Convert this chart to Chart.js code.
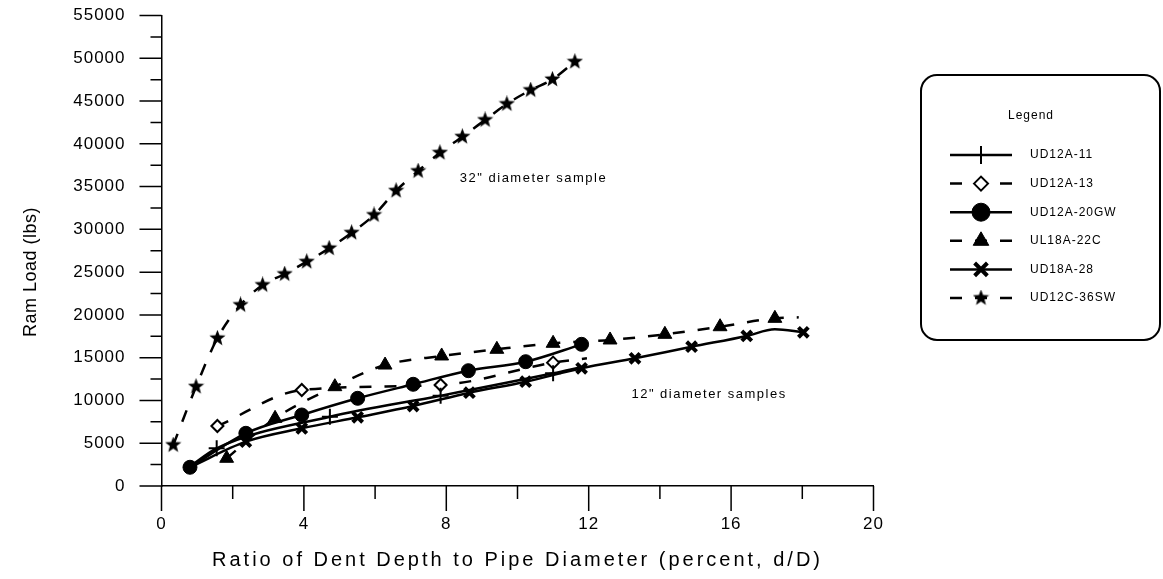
<!DOCTYPE html>
<html>
<head>
<meta charset="utf-8">
<title>Ram Load vs Dent Depth</title>
<script src="https://cdn.jsdelivr.net/npm/chart.js@4.4.1/dist/chart.umd.min.js"></script>
<style>
  html, body { margin: 0; padding: 0; background: #fff; }
  #wrap { width: 1163px; height: 579px; }
</style>
</head>
<body>
<div id="wrap"><canvas id="dentChart" width="1163" height="579"></canvas></div>
<script>
// axis ticks
const xTicks = [0, 4, 8, 12, 16, 20];
const xMinorTicks = [2, 6, 10, 14, 18];
const yTicks = [0, 5000, 10000, 15000, 20000, 25000, 30000, 35000, 40000, 45000, 50000, 55000];
const yMinorTicks = [2500, 7500, 12500, 17500, 22500, 27500, 32500, 37500, 42500, 47500, 52500];

const seriesNames = ['UD12A-11', 'UD12A-13', 'UD12A-20GW', 'UL18A-22C', 'UD18A-28', 'UD12C-36SW'];

// UD12A-11 (plus, solid)
const depth11 = [0.8, 1.55, 4.73, 7.84, 11.0, 11.8];
const load11  = [2300, 4410, 8100, 10550, 13170, 13900];

// UD12A-13 (open diamond, dashed)
const depth13 = [1.57, 3.94, 7.84, 11.0, 11.95];
const load13  = [7010, 11220, 11810, 14420, 14930];

// UD12A-20GW (circle, solid)
const depth20 = [0.8, 2.37, 3.94, 5.51, 7.07, 8.62, 10.23, 11.8];
const load20  = [2190, 6160, 8300, 10250, 11890, 13480, 14530, 16560];

// UL18A-22C (triangle, dashed)
const depth22 = [1.83, 3.19, 4.87, 6.28, 7.87, 9.42, 11.0, 12.6, 14.14, 15.69, 17.23, 17.9];
const load22  = [3240, 7910, 11610, 14140, 15200, 15980, 16680, 17070, 17730, 18620, 19600, 19720];

// UD18A-28 (x, solid)
const depth28 = [0.8, 2.37, 3.94, 5.51, 7.07, 8.65, 10.23, 11.8, 13.3, 14.89, 16.44, 17.23, 18.03];
const load28  = [2190, 5180, 6740, 8030, 9350, 10910, 12190, 13760, 14930, 16280, 17540, 18320, 17970];

// UD12C-36SW (star, dashed)
const depth36 = [0.33, 0.97, 1.57, 2.22, 2.84, 3.46, 4.08, 4.71, 5.34, 5.97, 6.59, 7.21, 7.82, 8.45, 9.09, 9.70, 10.37, 10.98, 11.61];
const load36  = [4790, 11610, 17270, 21160, 23500, 24780, 26220, 27790, 29610, 31680, 34520, 36820, 38960, 40830, 42790, 44660, 46290, 47540, 49600];

const FONT = '"Liberation Sans", Arial, sans-serif';

function pairs(xs, ys) {
    return xs.map((x, i) => ({ x: x, y: ys[i] }));
}

function makeStar(size) {
    const c = document.createElement('canvas');
    c.width = c.height = size;
    const g = c.getContext('2d');
    const R = size / 2, r = R * 0.42;
    g.beginPath();
    for (let i = 0; i < 10; i++) {
        const a = -Math.PI / 2 + i * Math.PI / 5;
        const rad = i % 2 ? r : R;
        g.lineTo(R + rad * Math.cos(a), R + rad * Math.sin(a));
    }
    g.closePath();
    g.fillStyle = '#000';
    g.fill();
    return c;
}
const starImg = makeStar(17);

const dash = [12, 13];

const datasets = [
    {
        label: seriesNames[0], data: pairs(depth11, load11),
        borderDash: [], pointStyle: 'cross',
        pointRadius: depth11.map((d, i) => (i === 0 || i === depth11.length - 1) ? 0 : 8),
        pointBorderWidth: 2, pointBackgroundColor: '#000', legendRadius: 9
    },
    {
        label: seriesNames[1], data: pairs(depth13, load13),
        borderDash: dash, pointStyle: 'rectRot',
        pointRadius: depth13.map((d, i) => i === depth13.length - 1 ? 0 : 6),
        pointBorderWidth: 2, pointBackgroundColor: '#fff', legendRadius: 7
    },
    {
        label: seriesNames[2], data: pairs(depth20, load20),
        borderDash: [], pointStyle: 'circle', pointRadius: 7,
        pointBorderWidth: 1, pointBackgroundColor: '#000', legendRadius: 9
    },
    {
        label: seriesNames[3], data: pairs(depth22, load22),
        borderDash: dash, pointStyle: 'triangle',
        pointRadius: depth22.map((d, i) => i === depth22.length - 1 ? 0 : 8),
        pointBorderWidth: 1, pointBackgroundColor: '#000', legendRadius: 9
    },
    {
        label: seriesNames[4], data: pairs(depth28, load28),
        borderDash: [], pointStyle: 'crossRot',
        pointRadius: depth28.map((d, i) => (i === 0 || i === 11) ? 0 : 7),
        pointBorderWidth: 4, pointBackgroundColor: '#000', legendRadius: 9
    },
    {
        label: seriesNames[5], data: pairs(depth36, load36),
        borderDash: dash, pointStyle: starImg, pointRadius: 8,
        pointBorderWidth: 1, pointBackgroundColor: '#000', legendRadius: 8
    }
].map(ds => Object.assign({
    borderColor: '#000',
    borderWidth: 2.5,
    pointBorderColor: '#000',
    cubicInterpolationMode: 'monotone',
    fill: false,
    clip: false
}, ds));

// tick marks, axis titles, in-plot notes
const axisDecor = {
    id: 'axisDecor',
    beforeDraw(chart) {
        chart.ctx.letterSpacing = '1px';
    },
    afterDraw(chart) {
        const { ctx, chartArea, scales: { x, y } } = chart;
        ctx.save();
        ctx.strokeStyle = '#000';
        ctx.lineWidth = 1.5;
        ctx.beginPath();
        yTicks.forEach(v => { const py = y.getPixelForValue(v); ctx.moveTo(chartArea.left - 22, py); ctx.lineTo(chartArea.left, py); });
        yMinorTicks.forEach(v => { const py = y.getPixelForValue(v); ctx.moveTo(chartArea.left - 11, py); ctx.lineTo(chartArea.left, py); });
        xTicks.forEach(v => { const px = x.getPixelForValue(v); ctx.moveTo(px, chartArea.bottom); ctx.lineTo(px, chartArea.bottom + 25); });
        xMinorTicks.forEach(v => { const px = x.getPixelForValue(v); ctx.moveTo(px, chartArea.bottom); ctx.lineTo(px, chartArea.bottom + 13); });
        ctx.stroke();

        ctx.fillStyle = '#000';
        ctx.textBaseline = 'middle';
        ctx.textAlign = 'center';
        ctx.letterSpacing = '3px';
        ctx.font = '20px ' + FONT;
        ctx.fillText('Ratio of Dent Depth to Pipe Diameter (percent, d/D)', (chartArea.left + chartArea.right) / 2, 560);

        ctx.save();
        ctx.translate(31, 272);
        ctx.rotate(-Math.PI / 2);
        ctx.letterSpacing = '0.5px';
        ctx.font = '18px ' + FONT;
        ctx.fillText('Ram Load (lbs)', 0, 0);
        ctx.restore();

        ctx.letterSpacing = '1.5px';
        ctx.font = '13px ' + FONT;
        ctx.textAlign = 'left';
        ctx.fillText('32" diameter sample', x.getPixelForValue(8.38), y.getPixelForValue(36000));
        ctx.fillText('12" diameter samples', x.getPixelForValue(13.2), y.getPixelForValue(10750));
        ctx.restore();
    }
};

const legendBox = {
    id: 'legendBox',
    afterDraw(chart) {
        const ctx = chart.ctx;
        const left = 921, top = 75, right = 1160, bottom = 340;
        ctx.save();
        ctx.strokeStyle = '#000';
        ctx.lineWidth = 2;
        ctx.beginPath();
        ctx.roundRect(left, top, right - left, bottom - top, 16);
        ctx.stroke();

        ctx.fillStyle = '#000';
        ctx.letterSpacing = '1px';
        ctx.font = '12px ' + FONT;
        ctx.textAlign = 'center';
        ctx.textBaseline = 'middle';
        ctx.fillText('Legend', 1031, 116);

        chart.data.datasets.forEach((ds, i) => {
            const rowY = 155 + i * 28.6;
            ctx.lineWidth = ds.borderWidth;
            ctx.setLineDash(ds.borderDash);
            ctx.beginPath();
            ctx.moveTo(950, rowY);
            ctx.lineTo(1012, rowY);
            ctx.stroke();
            ctx.setLineDash([]);
            ctx.fillStyle = ds.pointBackgroundColor;
            ctx.lineWidth = ds.pointBorderWidth;
            Chart.helpers.drawPoint(ctx, {
                pointStyle: ds.pointStyle, radius: ds.legendRadius,
                borderWidth: ds.pointBorderWidth, rotation: 0
            }, 981, rowY);
            ctx.fillStyle = '#000';
            ctx.textAlign = 'left';
            ctx.fillText(ds.label, 1030, rowY);
        });
        ctx.restore();
    }
};

new Chart(document.getElementById('dentChart').getContext('2d'), {
    type: 'line',
    data: { datasets: datasets },
    options: {
        responsive: false,
        animation: false,
        devicePixelRatio: 1,
        layout: { padding: { top: 15.5, right: 289.5, bottom: 0, left: 0 } },
        plugins: {
            legend: { display: false },
            tooltip: { enabled: false }
        },
        scales: {
            x: {
                type: 'linear',
                min: 0, max: 20,
                afterFit: s => { s.height = 93; s.paddingLeft = 0; s.paddingRight = 0; },
                grid: { display: false, drawTicks: false },
                border: { display: true, color: '#000', width: 1.5 },
                ticks: {
                    stepSize: 4, padding: 28, color: '#000',
                    font: { family: FONT, size: 17 },
                    maxRotation: 0
                }
            },
            y: {
                min: 0, max: 55000,
                afterFit: s => { s.width = 161.5; s.paddingTop = 0; s.paddingBottom = 0; },
                grid: { display: false, drawTicks: false },
                border: { display: true, color: '#000', width: 1.5 },
                ticks: {
                    stepSize: 5000, padding: 36, color: '#000',
                    font: { family: FONT, size: 17 },
                    callback: v => String(v)
                }
            }
        }
    },
    plugins: [axisDecor, legendBox]
});
</script>
</body>
</html>
